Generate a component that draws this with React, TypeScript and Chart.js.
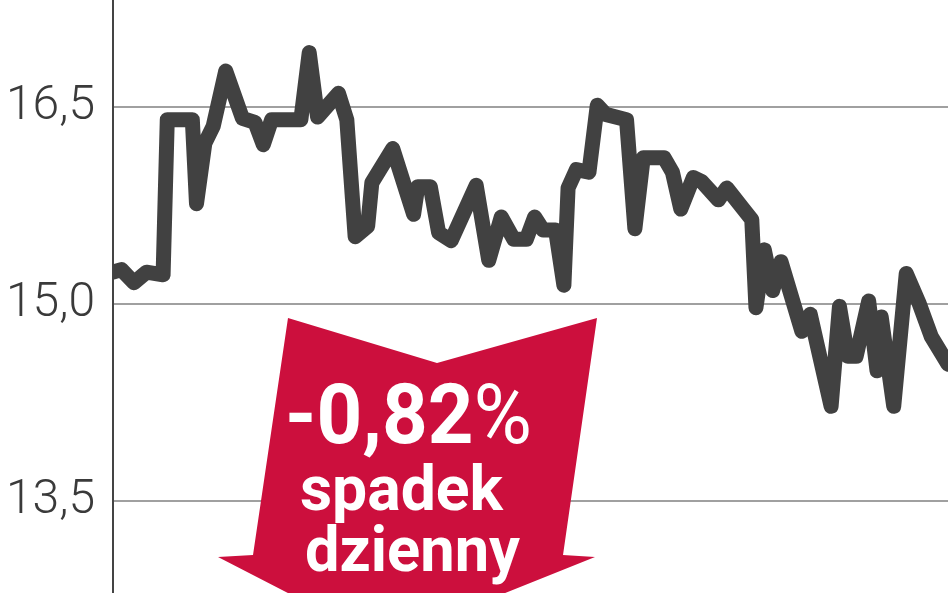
import { useEffect, useRef } from 'react';
import { Chart, registerables } from 'chart.js';

Chart.register(...registerables);

// Trading day index (x) and closing price (y)
const days = [
  0, 2, 5, 8, 12, 13, 19, 20, 22, 24, 27, 31, 34, 36, 38, 45, 47, 49, 54, 56,
  58, 61, 62, 67, 72, 73, 76, 78, 81, 87, 90, 93, 96, 99, 101, 103, 106, 108, 109, 111,
  114, 116, 118, 123, 125, 127, 132, 134, 136, 139, 141, 145, 147, 151, 153, 154, 156, 158, 160, 165,
  167, 172, 174, 176, 178, 181, 183, 184, 187, 190, 193, 196, 200,
];
const prices = [
  15.24, 15.26, 15.16, 15.24, 15.22, 16.40, 16.40, 15.76, 16.22, 16.35, 16.77, 16.41, 16.38, 16.21, 16.40, 16.40, 16.91, 16.42, 16.60, 16.40,
  15.51, 15.59, 15.92, 16.18, 15.68, 15.89, 15.89, 15.54, 15.48, 15.90, 15.33, 15.66, 15.49, 15.49, 15.66, 15.56, 15.56, 15.14, 15.88, 16.02,
  16.00, 16.51, 16.44, 16.40, 15.57, 16.11, 16.11, 16.00, 15.72, 15.96, 15.93, 15.79, 15.88, 15.72, 15.64, 14.97, 15.41, 15.10, 15.32, 14.79,
  14.92, 14.22, 14.98, 14.60, 14.60, 15.02, 14.49, 14.90, 14.22, 15.23, 15.01, 14.75, 14.54,
];
const yTicks = [13.5, 15.0, 16.5];
const changeValue = '-0,82';
const changeUnit = '%';
const changeLine2 = 'spadek';
const changeLine3 = 'dzienny';

const arrowPlugin = {
  id: 'arrowBadge',
  afterDatasetsDraw(chart: any) {
    const ctx: CanvasRenderingContext2D = chart.ctx;
    ctx.save();
    ctx.fillStyle = '#cc0f3d';
    ctx.beginPath();
    const pts = [
      [288, 318], [437, 363], [597, 318], [563, 555], [595, 557],
      [383, 642], [218, 557], [253, 555],
    ];
    pts.forEach(([x, y], i) => (i === 0 ? ctx.moveTo(x, y) : ctx.lineTo(x, y)));
    ctx.closePath();
    ctx.fill();

    ctx.fillStyle = '#ffffff';
    ctx.textBaseline = 'alphabetic';
    ctx.textAlign = 'left';

    const f1 = '700 84px Roboto';
    const f1b = '400 84px Roboto';
    ctx.font = f1;
    const w1a = ctx.measureText(changeValue).width;
    ctx.font = f1b;
    const w1b = ctx.measureText(changeUnit).width;
    const s1 = (532 - 285) / (w1a + w1b);
    ctx.save();
    ctx.translate(285, 443);
    ctx.scale(s1, 1);
    ctx.font = f1;
    ctx.fillText(changeValue, 0, 0);
    ctx.font = f1b;
    ctx.fillText(changeUnit, w1a, 0);
    ctx.restore();

    const drawFit = (t: string, font: string, left: number, right: number, base: number) => {
      ctx.font = font;
      const w = ctx.measureText(t).width;
      ctx.save();
      ctx.translate(left, base);
      ctx.scale((right - left) / w, 1);
      ctx.fillText(t, 0, 0);
      ctx.restore();
    };
    drawFit(changeLine2, '700 63px Roboto', 300, 503, 510);
    drawFit(changeLine3, '700 63px Roboto', 305, 520, 571);
    ctx.restore();
  },
};

export default function App() {
  const ref = useRef<HTMLCanvasElement>(null);
  useEffect(() => {
    const chart = new Chart(ref.current!, {
      type: 'line',
      data: {
        datasets: [
          {
            data: days.map((d, i) => ({ x: d, y: prices[i] })),
            borderColor: '#414141',
            borderWidth: 15,
            borderJoinStyle: 'round',
            borderCapStyle: 'round',
            pointRadius: 0,
            tension: 0,
            fill: false,
            clip: 0,
          } as any,
        ],
      },
      options: {
        animation: false,
        responsive: false,
        devicePixelRatio: 1,
        layout: { padding: 0 },
        plugins: { legend: { display: false }, tooltip: { enabled: false } },
        scales: {
          x: { type: 'linear', display: false, min: 0, max: 200 },
          y: {
            min: 12.8,
            max: 17.31,
            afterBuildTicks: (scale: any) => {
              scale.ticks = yTicks.map((v) => ({ value: v }));
            },
            afterFit: (scale: any) => {
              scale.width = 113;
              scale.paddingTop = 0;
              scale.paddingBottom = 0;
            },
            grid: { color: '#a0a0a0', lineWidth: 2, drawTicks: false },
            border: { color: '#444444', width: 2 },
            ticks: {
              padding: 18,
              color: '#3a3a3a',
              font: { family: 'Roboto', size: 48, weight: 300 as any },
              callback: (v: any) => Number(v).toFixed(1).replace('.', ','),
            },
          },
        },
      },
      plugins: [arrowPlugin],
    });
    return () => chart.destroy();
  }, []);
  return (
    <div style={{ position: 'absolute', left: 0, top: 0, width: 948, height: 593, background: '#fff' }}>
      <canvas ref={ref} width={948} height={593} style={{ display: 'block' }} />
    </div>
  );
}
